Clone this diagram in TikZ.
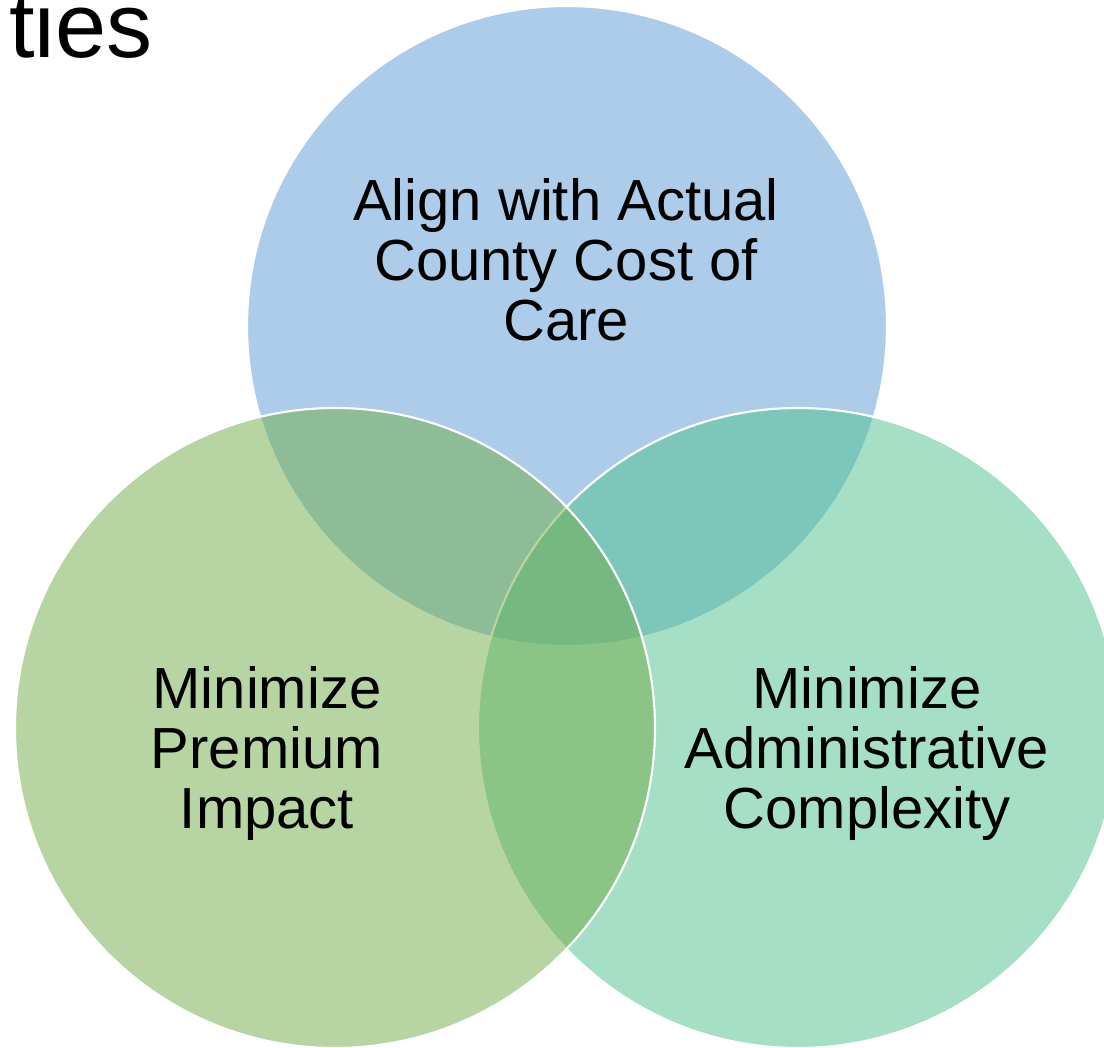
\documentclass[tikz,border=0pt]{standalone}
\usepackage{fontspec}
\setmainfont{Liberation Sans}
\definecolor{cblue}{HTML}{5B9BD5}
\definecolor{cgreen}{HTML}{70AD47}
\definecolor{cteal}{HTML}{4DC18D}
\begin{document}
\begin{tikzpicture}[x=0.75pt,y=-0.75pt,
  venn/.style={draw=white,line width=1.6pt,fill opacity=0.5,draw opacity=1},
  lbl/.style={align=center,inner sep=0pt,anchor=north,text=black,
    font=\fontsize{43.5pt}{45pt}\selectfont}]
\useasboundingbox (0,0) rectangle (1104,1048);
\clip (0,0) rectangle (1104,1048);
\fill[white] (0,0) rectangle (1104,1048);
% circles: order top, right, left
\path[venn,fill=cblue]  (567,326) circle[radius=240pt];
\path[venn,fill=cteal]  (798,728) circle[radius=240pt];
\path[venn,fill=cgreen] (335,728) circle[radius=240pt];
% labels
\node[lbl] (top) at (566,178) {Align with Actual\\County Cost of\\Care};
\node[lbl] (left) at (267,666) {Minimize\\Premium\\Impact};
\node[lbl] (right) at (867,666) {Minimize\\Administrative\\Complexity};
% clipped title fragment
\node[anchor=base west,inner sep=0pt,font=\fontsize{69pt}{72pt}\selectfont] (title) at (9,58) {ties};
\end{tikzpicture}
\end{document}
